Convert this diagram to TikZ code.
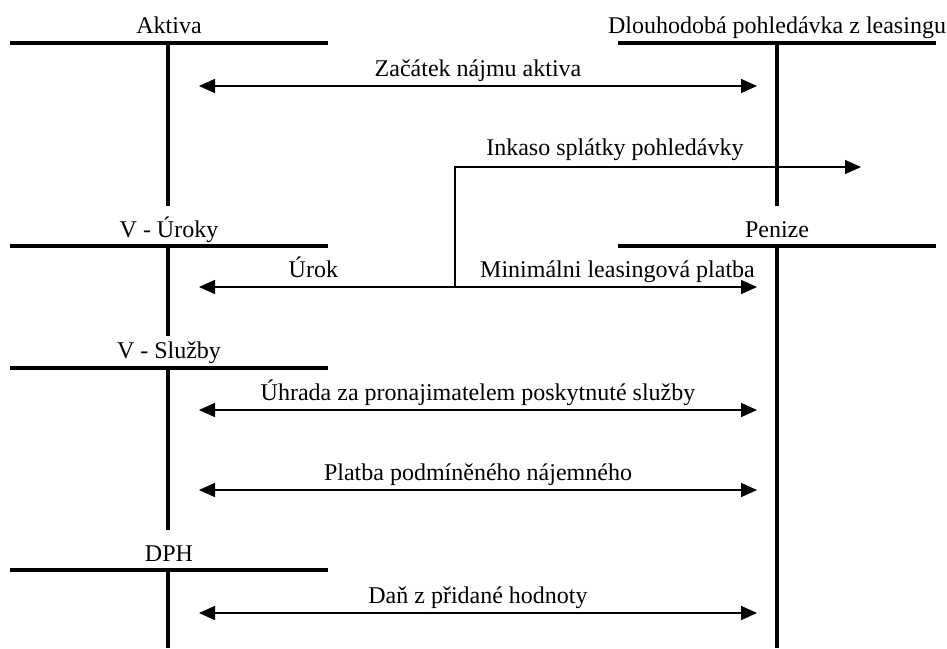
\documentclass[tikz,border=0pt]{standalone}
\usepackage{fontspec}
\setmainfont{Liberation Serif}
\usetikzlibrary{positioning}
\usetikzlibrary{arrows.meta}
\tikzset{
	>={Triangle[length=8pt,width=7pt]},
	konto/.style={line width=2pt},
	osa/.style={line width=1.6pt},
	tok/.style={draw, line width=0.8pt, <->},
	inkaso/.style={draw, line width=0.65pt, ->},
	nazev/.style={anchor=base, inner sep=0pt},
	popis/.style={anchor=base, inner sep=0pt, yshift=5pt},
}

\begin{document}
\begin{tikzpicture}
		[x=0.5pt, y=-0.5pt, font=\fontsize{12}{14}\selectfont]
		\useasboundingbox (0,0) rectangle (947,648);
		% ucty vlevo
		\node[nazev] (aktiva) at (169,33) {Aktiva};
		\draw[konto] (10,43) -- (328,43);
		\draw[osa] (168,43) -- (168,206);
		\node[nazev] (uroky) at (169,237) {V - Úroky};
		\draw[konto] (10,246) -- (328,246);
		\draw[osa] (168,246) -- (168,336);
		\node[nazev] (sluzby) at (169,358) {V - Služby};
		\draw[konto] (10,368) -- (328,368);
		\draw[osa] (168,368) -- (168,530);
		\node[nazev] (dph) at (169,561) {DPH};
		\draw[konto] (10,570) -- (328,570);
		\draw[osa] (168,570) -- (168,648);
		% ucty vpravo
		\node[nazev] (pohledavka) at (777,33) {Dlouhodobá pohledávka z leasingu};
		\draw[konto] (618,43) -- (936,43);
		\draw[osa] (777,43) -- (777,206);
		\node[nazev] (penize) at (777,237) {Penize};
		\draw[konto] (618,246) -- (936,246);
		\draw[osa] (777,246) -- (777,648);
		% konce sipek
		\coordinate (zacatekL) at (199,86);
		\coordinate (zacatekR) at (757,86);
		\coordinate (platbaL) at (199,287);
		\coordinate (platbaR) at (757,287);
		\coordinate (odbocka) at (455,287);
		\coordinate (inkasoR) at (861,167);
		\coordinate (uhradaL) at (199,410);
		\coordinate (uhradaR) at (757,410);
		\coordinate (najemL) at (199,490);
		\coordinate (najemR) at (757,490);
		\coordinate (danL) at (199,613);
		\coordinate (danR) at (757,613);
		% sipky
		\draw[tok] (zacatekL) -- node[popis] {Začátek nájmu aktiva} (zacatekR);
		\draw[tok] (platbaL) -- node[popis, pos=0.205] {Úrok}
			node[popis, pos=0.75] {Minimálni leasingová platba} (platbaR);
		\draw[inkaso] (odbocka) -- (odbocka |- inkasoR)
			-- node[popis, pos=0.394, yshift=1pt] {Inkaso splátky pohledávky} (inkasoR);
		\draw[tok] (uhradaL) -- node[popis] {Úhrada za pronajimatelem poskytnuté služby} (uhradaR);
		\draw[tok] (najemL) -- node[popis] {Platba podmíněného nájemného} (najemR);
		\draw[tok] (danL) -- node[popis] {Daň z přidané hodnoty} (danR);
		\end{tikzpicture}
\end{document}
